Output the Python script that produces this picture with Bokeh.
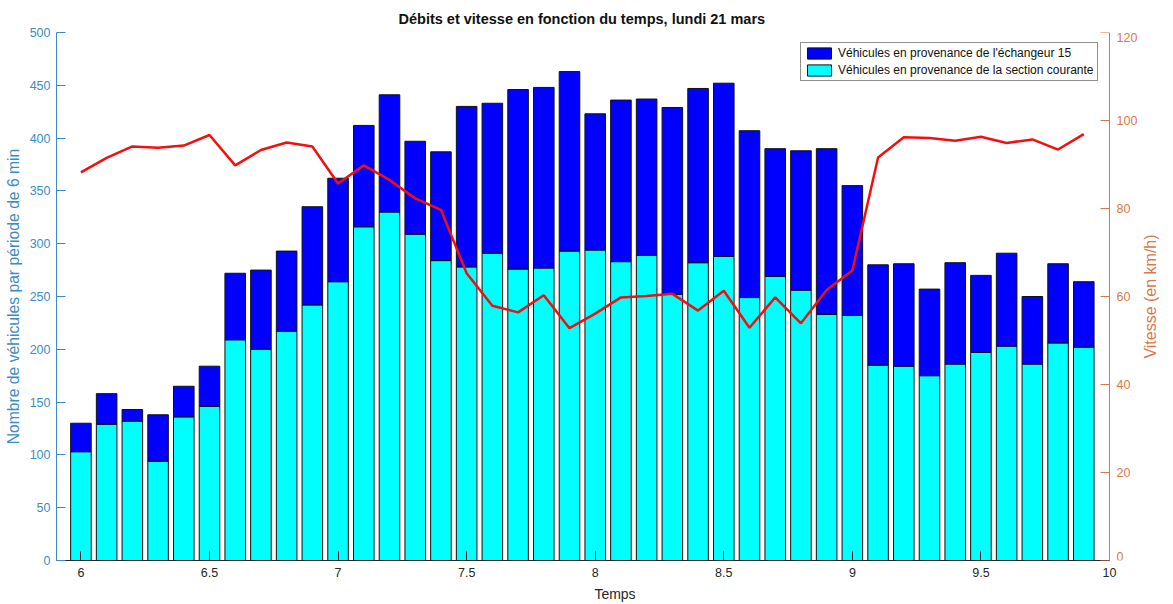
import math
from bokeh.plotting import figure
from bokeh.models import (ColumnDataSource, Range1d, LinearAxis, FixedTicker,
                          Legend, LegendItem, Label)
from bokeh.embed import file_html
from bokeh.resources import INLINE

# ---- data ----
temps = [6.0, 6.1, 6.2, 6.3, 6.4, 6.5, 6.6, 6.7, 6.8, 6.9,
         7.0, 7.1, 7.2, 7.3, 7.4, 7.5, 7.6, 7.7, 7.8, 7.9,
         8.0, 8.1, 8.2, 8.3, 8.4, 8.5, 8.6, 8.7, 8.8, 8.9,
         9.0, 9.1, 9.2, 9.3, 9.4, 9.5, 9.6, 9.7, 9.8, 9.9]
section_courante = [103, 129, 132, 94, 136, 146, 209, 200, 217, 242,
                    264, 316, 330, 309, 284, 278, 291, 276, 277, 293,
                    294, 283, 289, 252, 282, 288, 249, 269, 256, 233,
                    232, 185, 184, 175, 186, 197, 203, 186, 206, 202]
echangeur_15 = [27, 29, 11, 44, 29, 38, 63, 75, 76, 93,
                98, 96, 111, 88, 103, 152, 142, 170, 171, 170,
                129, 153, 148, 177, 165, 164, 158, 121, 132, 157,
                123, 95, 97, 82, 96, 73, 88, 64, 75, 62]
vitesse = [88.2, 91.5, 94.1, 93.8, 94.3, 96.7, 89.8, 93.3, 95.0, 94.1,
           85.7, 89.8, 86.5, 82.3, 79.7, 65.3, 57.9, 56.4, 60.3, 52.8,
           56.1, 59.8, 60.1, 60.6, 56.8, 61.3, 52.9, 59.8, 53.9, 61.5,
           65.9, 91.6, 96.2, 96.0, 95.4, 96.3, 94.9, 95.7, 93.4, 96.9]
xticks = [6, 6.5, 7, 7.5, 8, 8.5, 9, 9.5, 10]
xtick_labels = ["6", "6.5", "7", "7.5", "8", "8.5", "9", "9.5", "10"]
yticks_left = [0, 50, 100, 150, 200, 250, 300, 350, 400, 450, 500]
yticks_right = [0, 20, 40, 60, 80, 100, 120]

FONT = "Liberation Sans"
LEFT_C = "#3b8cc4"
RIGHT_C = "#d9784a"
DARK = "#262626"

X_START, X_END = 5.905, 10.0
V_MIN, V_MAX = 0, 120
# the frame runs on past x=10 so that the right-hand axis title can sit inside it
FRAME_END = X_START + 1117 * (X_END - X_START) / 1053

src = ColumnDataSource(dict(t=temps, sc=section_courante, ech=echangeur_15, v=vitesse))

p = figure(width=1173, height=604, output_backend="svg", toolbar_location=None,
           x_range=Range1d(X_START, FRAME_END), y_range=Range1d(0, 500),
           min_border_left=56, min_border_right=0, min_border_top=32, min_border_bottom=44,
           title="Débits et vitesse en fonction du temps, lundi 21 mars")
p.extra_y_ranges = {"v": Range1d(V_MIN, V_MAX)}

p.title.align = "left"
p.title.offset = 342
p.title.text_font = FONT
p.title.text_font_size = "14.5px"
p.title.text_font_style = "bold"
p.title.text_color = "#111111"
p.title.standoff = 11

p.grid.visible = False
p.outline_line_color = None
p.background_fill_color = "white"

rs = p.vbar_stack(["sc", "ech"], x="t", width=0.08, source=src,
                  fill_color=["#00ffff", "#0000ff"], line_color="#111111", line_width=1)

line = p.line("t", "v", source=src, y_range_name="v", line_color="#f01010", line_width=2.5)

# x axis
xa = p.xaxis[0]
xa.bounds = (X_START, X_END)
xa.ticker = FixedTicker(ticks=xticks)
xa.major_label_overrides = {t: l for t, l in zip(xticks, xtick_labels)}
xa.axis_label = "Temps"
xa.axis_line_color = DARK
xa.major_tick_line_color = DARK
xa.major_tick_in = 9
xa.major_tick_out = 0
xa.minor_tick_line_color = None
xa.major_label_text_font = FONT
xa.major_label_text_font_size = "12.5px"
xa.major_label_text_color = DARK
xa.major_label_standoff = 7
xa.axis_label_text_font = FONT
xa.axis_label_text_font_size = "14px"
xa.axis_label_text_font_style = "normal"
xa.axis_label_text_color = DARK
xa.axis_label_standoff = 6

# left axis
ya = p.yaxis[0]
ya.ticker = FixedTicker(ticks=yticks_left)
ya.axis_label = "Nombre de véhicules par période de 6 min"
ya.axis_line_color = LEFT_C
ya.major_tick_line_color = LEFT_C
ya.major_tick_in = 9
ya.major_tick_out = 0
ya.minor_tick_line_color = None
ya.major_label_text_font = FONT
ya.major_label_text_font_size = "12.5px"
ya.major_label_text_color = LEFT_C
ya.major_label_standoff = 6
ya.axis_label_text_font = FONT
ya.axis_label_text_font_size = "15.7px"
ya.axis_label_text_font_style = "normal"
ya.axis_label_text_color = LEFT_C
ya.axis_label_standoff = 5

# right axis, pinned at x = 10
ra = LinearAxis(y_range_name="v", ticker=FixedTicker(ticks=yticks_right), fixed_location=X_END)
ra.axis_line_color = RIGHT_C
ra.major_tick_line_color = RIGHT_C
ra.major_tick_in = 9
ra.major_tick_out = 0
ra.minor_tick_line_color = None
ra.major_label_text_font = FONT
ra.major_label_text_font_size = "12.5px"
ra.major_label_text_color = RIGHT_C
ra.major_label_standoff = 7
# the end labels would be cut by the frame edge: draw them just inside instead
ra.major_label_overrides = {V_MIN: "", V_MAX: ""}
p.add_layout(ra, "right")

for val, base in ((V_MAX, "top"), (V_MIN, "bottom")):
    p.add_layout(Label(x=X_END, y=val, y_range_name="v", x_offset=7, text=str(val),
                       text_align="left", text_baseline=base, text_font=FONT,
                       text_font_size="12.5px", text_color=RIGHT_C))

right_title = Label(x=X_END + 41 / 257.3, y=60, y_range_name="v",
                    text="Vitesse (en km/h)", angle=math.pi / 2,
                    text_align="center", text_baseline="middle", text_font=FONT,
                    text_font_size="16px", text_color=RIGHT_C)
p.add_layout(right_title)

legend = Legend(items=[
    LegendItem(label="Véhicules en provenance de l'échangeur 15", renderers=[rs[1]]),
    LegendItem(label="Véhicules en provenance de la section courante", renderers=[rs[0]]),
], location=(744, 479))
legend.margin = 0
legend.padding = 3
legend.spacing = 3
legend.glyph_width = 30
legend.glyph_height = 14
legend.label_height = 14
legend.label_standoff = 4
legend.label_text_font = FONT
legend.label_text_font_size = "12px"
legend.label_text_color = "#111111"
legend.border_line_color = "#222222"
legend.border_line_width = 1
legend.background_fill_alpha = 1
p.add_layout(legend, "center")

open("out.html", "w").write(file_html(p, INLINE))
